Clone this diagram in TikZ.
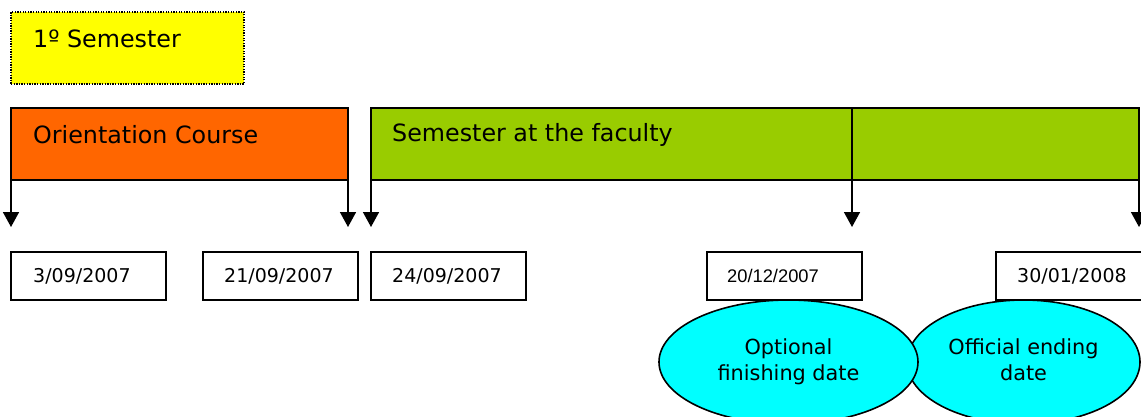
\documentclass[tikz,border=0pt]{standalone}
\usepackage{fontspec}
\setmainfont{DejaVu Sans}
\newfontfamily\arialfont{Liberation Sans}
\usetikzlibrary{arrows.meta,shapes.geometric}
\definecolor{orangebar}{HTML}{FF6600}
\definecolor{greenbar}{HTML}{99CC00}
\definecolor{yellowbox}{HTML}{FFFF00}
\definecolor{cyanell}{HTML}{00FFFF}
\tikzset{
  bar/.style={draw=black, line width=1.6pt, rectangle, inner sep=0pt, outer sep=0pt, anchor=north west},
  datebox/.style={draw=black, fill=white, line width=1.6pt, rectangle, minimum width=155pt, minimum height=48pt, inner sep=0pt, outer sep=0pt, anchor=north west},
  datetext/.style={font=\fontsize{19}{22}\selectfont, anchor=west, inner sep=0pt},
  headtext/.style={font=\fontsize{23.8}{27}\selectfont, anchor=west, inner sep=0pt},
  endarrow/.style={line width=1.6pt, -{Triangle[width=16pt,length=15pt]}},
  oval/.style={draw=black, fill=cyanell, line width=1.6pt, ellipse, inner sep=0pt, outer sep=0pt, align=center, font=\fontsize{20.8}{26}\selectfont}
}
\begin{document}
\begin{tikzpicture}[x=1pt,y=-1pt]
\useasboundingbox (0,0) rectangle (1141,416);
% semester label
\node[bar, fill=yellowbox, draw=black, line width=1.3pt, dash pattern=on 1.3pt off 1.3pt, minimum width=233pt, minimum height=72pt] (sem) at (11,12) {};
\node[headtext] (semt) at (33,39) {1º Semester};
% bars
\node[bar, fill=orangebar, minimum width=337pt, minimum height=72pt] (orient) at (11,108) {};
\node[headtext] (orientt) at (33,134.5) {Orientation Course};
\node[bar, fill=greenbar, minimum width=768pt, minimum height=72pt] (fac) at (371,108) {};
\node[headtext] (fact) at (392,134.5) {Semester at the faculty};
% arrow coordinates
\coordinate (a1s) at (11,180);   \coordinate (a1e) at (11,227);
\coordinate (a2s) at (348,180);  \coordinate (a2e) at (348,227);
\coordinate (a3s) at (371,180);  \coordinate (a3e) at (371,227);
\coordinate (a4s) at (852,108);  \coordinate (a4e) at (852,227);
\coordinate (a5s) at (1139,180); \coordinate (a5e) at (1139,227);
\draw[endarrow] (a1s) -- (a1e);
\draw[endarrow] (a2s) -- (a2e);
\draw[endarrow] (a3s) -- (a3e);
\draw[endarrow] (a4s) -- (a4e);
\draw[endarrow] (a5s) -- (a5e);
% date boxes
\node[datebox] (d1) at (11,252) {};
\node[datetext] (d1t) at (33,276) {3/09/2007};
\node[datebox] (d2) at (203,252) {};
\node[datetext] (d2t) at (224,276) {21/09/2007};
\node[datebox] (d3) at (371,252) {};
\node[datetext] (d3t) at (392,276) {24/09/2007};
\node[datebox] (d4) at (707,252) {};
\node[datetext, font=\arialfont\fontsize{18.3}{22}\selectfont] (d4t) at (727,276) {20/12/2007};
\node[datebox] (d5) at (996,252) {};
\node[datetext] (d5t) at (1017,276) {30/01/2008};
% ellipses
\node[oval, minimum width=233pt, minimum height=124pt] (e2) at (1023.5,362) {Official ending\\date\vphantom{g}};
\node[oval, minimum width=259pt, minimum height=124pt] (e1) at (788.5,362) {Optional\\finishing date};
\end{tikzpicture}
\end{document}
